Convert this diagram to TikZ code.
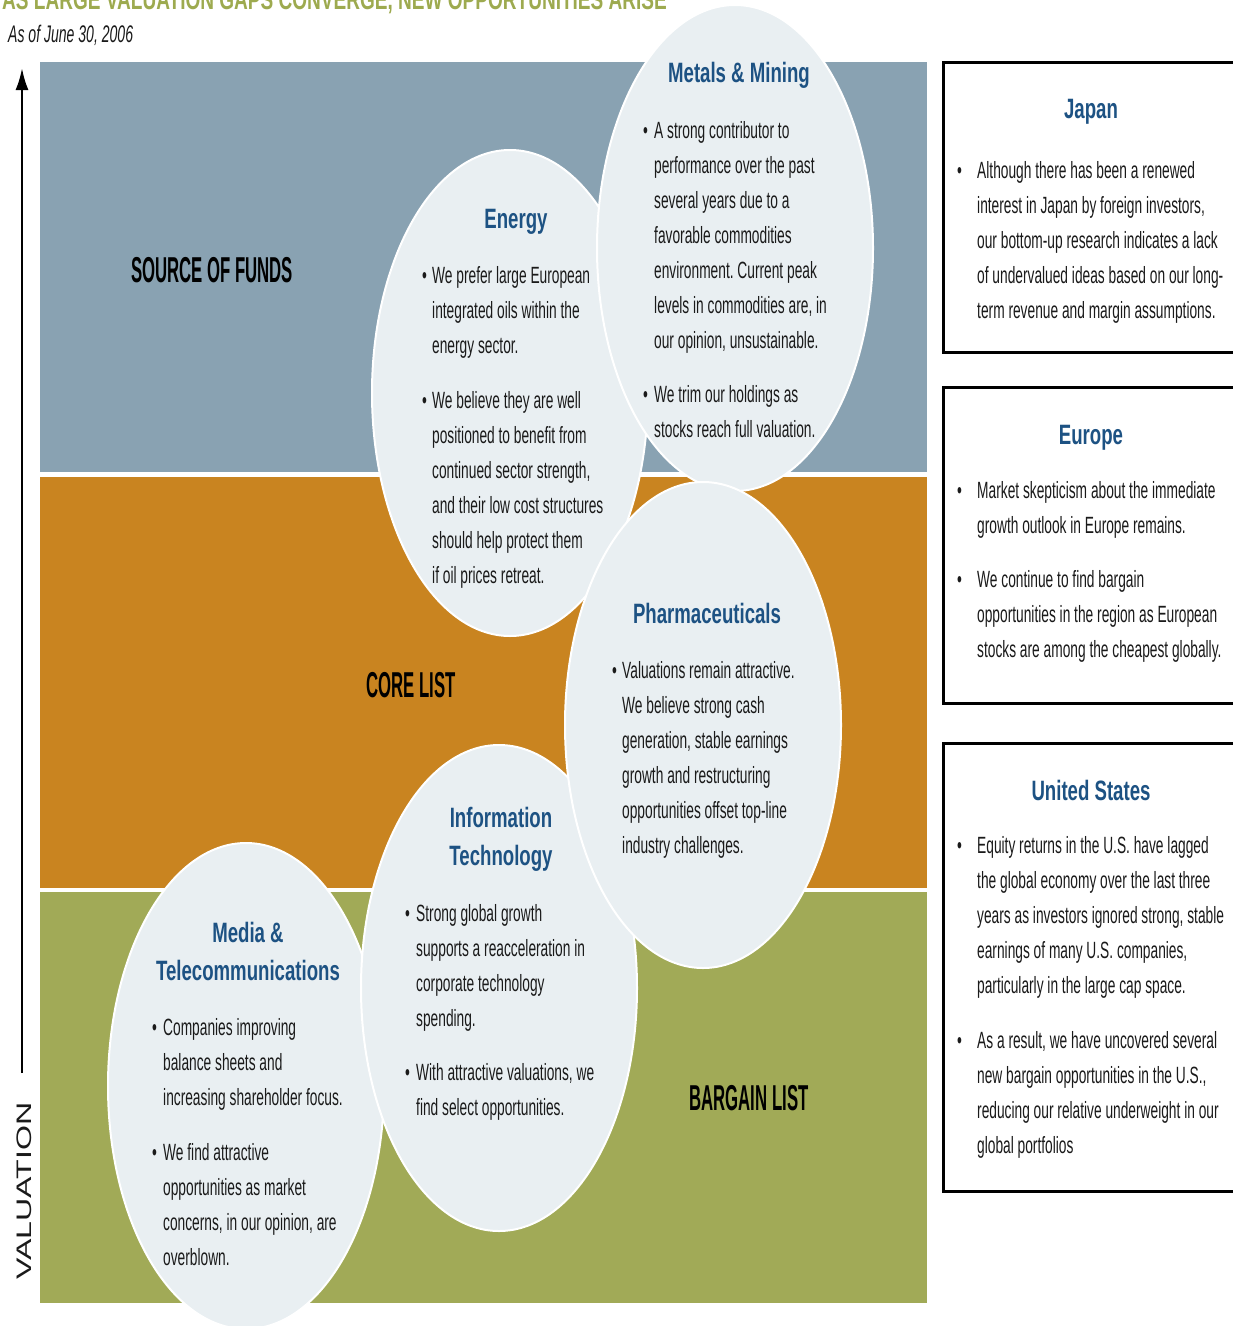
\documentclass[tikz,border=0pt]{standalone}
\usepackage{fontspec}
\setmainfont{Liberation Sans}
\newfontfamily\bodyfont[FakeStretch=0.585]{Liberation Sans}
\newfontfamily\headfont[FakeStretch=0.665]{Liberation Sans}
\newfontfamily\titlefont[FakeStretch=0.68]{Liberation Sans}
\newfontfamily\bandfont[FakeStretch=0.465]{Liberation Sans}
\newfontfamily\valfont[FakeStretch=1.53]{Liberation Sans}
\usetikzlibrary{shapes.geometric,arrows.meta}
\definecolor{bandblue}{HTML}{89A2B2}
\definecolor{bandorange}{HTML}{C98420}
\definecolor{bandgreen}{HTML}{A1AA57}
\definecolor{bubblefill}{HTML}{E9EFF2}
\definecolor{headblue}{HTML}{1D5283}
\definecolor{titlegreen}{HTML}{9DAA4F}
\definecolor{bodytext}{HTML}{1A1A1A}
\begin{document}
\begin{tikzpicture}[x=1pt,y=-1pt,
  bubble/.style={ellipse, fill=bubblefill, draw=white, line width=2pt, minimum width=276pt, minimum height=486pt, inner sep=0pt},
  body/.style={anchor=base west, inner sep=0pt, text width=300pt, align=flush left, text=bodytext, font=\bodyfont\frenchspacing\fontsize{23.5}{35}\selectfont},
  bul/.style={anchor=base west, inner sep=0pt, text=bodytext, font=\bodyfont\fontsize{23.5}{35}\selectfont},
  head/.style={anchor=base, inner sep=0pt, text=headblue, font=\headfont\bfseries\fontsize{28}{38}\selectfont},
  bandlabel/.style={anchor=base, inner sep=0pt, text=black, font=\bandfont\bfseries\fontsize{36}{40}\selectfont},
  regionbox/.style={draw=black, line width=3pt, fill=white},
]
\useasboundingbox (0,0) rectangle (1233,1326);
\clip (0,0) rectangle (1233,1326);

% title
\node[anchor=base west, inner sep=0pt, text=titlegreen, font=\titlefont\bfseries\fontsize{28}{30}\selectfont] (title) at (2,9) {AS LARGE VALUATION GAPS CONVERGE, NEW OPPORTUNITIES ARISE};
\node[anchor=base west, inner sep=0pt, text=bodytext, font=\bodyfont\itshape\fontsize{24}{28}\selectfont] (subtitle) at (8,42) {As of June 30, 2006};

% bands
\fill[bandblue] (40,62) rectangle (927,472);
\fill[bandorange] (40,477) rectangle (927,888);
\fill[bandgreen] (40,892) rectangle (927,1303);

% valuation arrow
\coordinate (abot) at (22,1073);
\coordinate (atop) at (22,68);
\draw[line width=2.5pt, -{Latex[length=22pt,width=13pt]}] (abot) -- (atop);
\node[rotate=90, inner sep=0pt, text=bodytext, font=\valfont\fontsize{21}{24}\selectfont] (val) at (24,1191) {VALUATION};

% band labels
\node[bandlabel] (src) at (212,282) {SOURCE OF FUNDS};
\node[bandlabel] (core) at (411,697) {CORE LIST};
\node[bandlabel] (bargain) at (749,1110) {BARGAIN LIST};

% bubbles
\node[bubble] (media) at (246,1086) {};
\node[bubble] (it) at (499,988) {};
\node[bubble] (energy) at (510,393) {};
\node[bubble] (metals) at (735,248) {};
\node[bubble] (pharma) at (703,725) {};

% Metals & Mining
\node[head] (metals-h) at (739,82) {Metals \& Mining};
\node[bul] (metals-b1) at (643,138) {\textbullet};
\node[body] (metals-t1) at (654,138) {A strong contributor to\\performance over the past\\several years due to a\\favorable commodities\\environment. Current peak\\levels in commodities are, in\\our opinion, unsustainable.};
\node[bul] (metals-b2) at (643,402) {\textbullet};
\node[body] (metals-t2) at (654,402) {We trim our holdings as\\stocks reach full valuation.};

% Energy
\node[head] (energy-h) at (516,228) {Energy};
\node[bul] (energy-b1) at (422,283) {\textbullet};
\node[body] (energy-t1) at (432,283) {We prefer large European\\integrated oils within the\\energy sector.};
\node[bul] (energy-b2) at (422,408) {\textbullet};
\node[body] (energy-t2) at (432,408) {We believe they are well\\positioned to benefit from\\continued sector strength,\\and their low cost structures\\should help protect them\\if oil prices retreat.};

% Pharmaceuticals
\node[head] (pharma-h) at (707,623) {Pharmaceuticals};
\node[bul] (pharma-b1) at (612,678) {\textbullet};
\node[body] (pharma-t1) at (622,678) {Valuations remain attractive.\\We believe strong cash\\generation, stable earnings\\growth and restructuring\\opportunities offset top-line\\industry challenges.};

% Information Technology
\node[head] (it-h1) at (501,827) {Information};
\node[head] (it-h2) at (501,865) {Technology};
\node[bul] (it-b1) at (405,921) {\textbullet};
\node[body] (it-t1) at (416,921) {Strong global growth\\supports a reacceleration in\\corporate technology\\spending.};
\node[bul] (it-b2) at (405,1080) {\textbullet};
\node[body] (it-t2) at (416,1080) {With attractive valuations, we\\find select opportunities.};

% Media & Telecommunications
\node[head] (media-h1) at (248,942) {Media \&};
\node[head] (media-h2) at (248,980) {Telecommunications};
\node[bul] (media-b1) at (152,1035) {\textbullet};
\node[body] (media-t1) at (163,1035) {Companies improving\\balance sheets and\\increasing shareholder focus.};
\node[bul] (media-b2) at (152,1160) {\textbullet};
\node[body] (media-t2) at (163,1160) {We find attractive\\opportunities as market\\concerns, in our opinion, are\\overblown.};

% Japan box
\draw[regionbox] (943,62) rectangle (1250,352);
\node[head] (japan-h) at (1091,118) {Japan};
\node[bul] (japan-b1) at (957,178) {\textbullet};
\node[body] (japan-t1) at (977,178) {Although there has been a renewed\\interest in Japan by foreign investors,\\our bottom-up research indicates a lack\\of undervalued ideas based on our long-\\term revenue and margin assumptions.};

% Europe box
\draw[regionbox] (943,387) rectangle (1250,703);
\node[head] (europe-h) at (1091,444) {Europe};
\node[bul] (europe-b1) at (957,498) {\textbullet};
\node[body] (europe-t1) at (977,498) {Market skepticism about the immediate\\growth outlook in Europe remains.};
\node[bul] (europe-b2) at (957,587) {\textbullet};
\node[body] (europe-t2) at (977,587) {We continue to find bargain\\opportunities in the region as European\\stocks are among the cheapest globally.};

% United States box
\draw[regionbox] (943,743) rectangle (1250,1191);
\node[head] (us-h) at (1091,800) {United States};
\node[bul] (us-b1) at (957,853) {\textbullet};
\node[body] (us-t1) at (977,853) {Equity returns in the U.S. have lagged\\the global economy over the last three\\years as investors ignored strong, stable\\earnings of many U.S. companies,\\particularly in the large cap space.};
\node[bul] (us-b2) at (957,1048) {\textbullet};
\node[body] (us-t2) at (977,1048) {As a result, we have uncovered several\\new bargain opportunities in the U.S.,\\reducing our relative underweight in our\\global portfolios};
\end{tikzpicture}
\end{document}
